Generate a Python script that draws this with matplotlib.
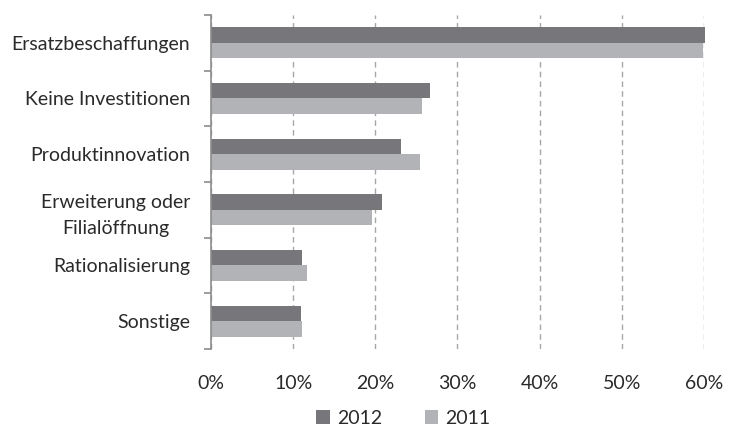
import matplotlib.pyplot as plt
import numpy as np
from matplotlib.ticker import FixedLocator

plt.rcParams['font.family'] = ['Lato', 'DejaVu Sans']

categories = ["Ersatzbeschaffungen", "Keine Investitionen", "Produktinnovation",
              "Erweiterung oder\nFilialöffnung", "Rationalisierung", "Sonstige"]
values_2012 = [60.1, 26.6, 23.1, 20.8, 11.1, 11.0]
values_2011 = [59.9, 25.7, 25.4, 19.6, 11.7, 11.1]
x_ticks = [0, 10, 20, 30, 40, 50, 60]

dark = '#77777b'
light = '#b2b3b6'
text_col = '#2a2a2a'

fig = plt.figure(figsize=(7.31, 4.29), dpi=100)
ax = fig.add_axes([0.2886, 0.1865, 0.6744, 0.7786])

y = np.arange(len(categories))
h = 0.28
ax.barh(y - h / 2, values_2012, height=h, color=dark, label='2012', clip_on=False)
ax.barh(y + h / 2, values_2011, height=h, color=light, label='2011', clip_on=False)

ax.set_xlim(0, 60)
ax.set_ylim(len(categories) - 0.5, -0.5)
ax.set_xticks(x_ticks)
ax.set_xticklabels([f"{t}%" for t in x_ticks], fontsize=14, color=text_col)
ax.tick_params(axis='x', length=0, pad=19)

ax.set_yticks(y)
ax.set_yticklabels(categories, fontsize=14, color=text_col, ha='right',
                   multialignment='center', linespacing=1.65)
ax.tick_params(axis='y', which='major', length=0, pad=15)
# short outward ticks at the category boundaries
ax.yaxis.set_minor_locator(FixedLocator(np.arange(-0.5, len(categories), 1.0)))
ax.tick_params(axis='y', which='minor', length=5, width=1.2, color='#8c8c8c', direction='out')

ax.grid(axis='x', linestyle=(0, (4, 3)), color='#a6a6a6', linewidth=1)
ax.set_axisbelow(True)
for s in ['top', 'right', 'bottom']:
    ax.spines[s].set_visible(False)
ax.spines['left'].set_color('#8c8c8c')
ax.spines['left'].set_linewidth(1.2)

ax.legend(loc='center', bbox_to_anchor=(0.39, -0.207), ncol=2, frameon=False,
          fontsize=14, handlelength=0.7, handleheight=0.7, columnspacing=2.2,
          handletextpad=0.35, labelcolor=text_col, borderaxespad=0, borderpad=0.1)

fig.savefig('out.png', dpi=100)
